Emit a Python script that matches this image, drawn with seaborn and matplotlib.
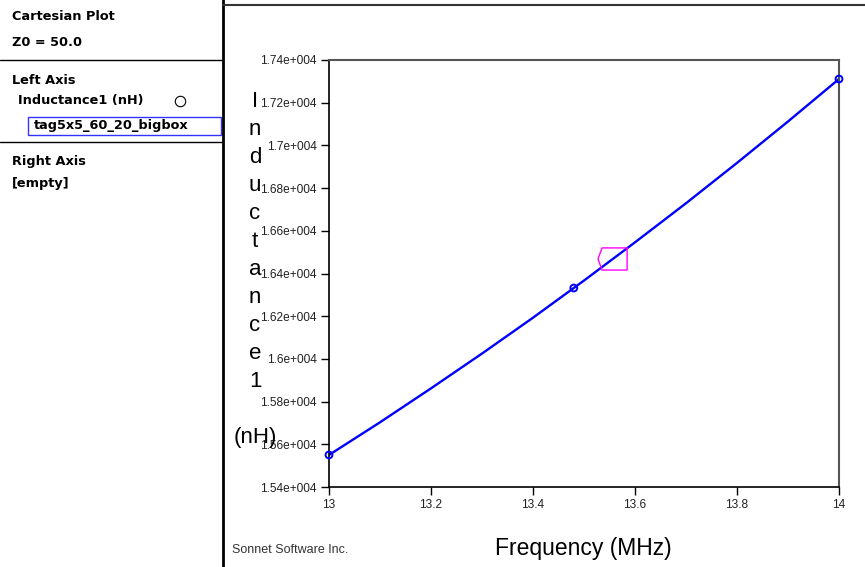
import matplotlib
matplotlib.use("Agg")
import matplotlib.pyplot as plt
import seaborn as sns
import pandas as pd
from matplotlib.lines import Line2D
from matplotlib.patches import Rectangle
from matplotlib.path import Path

# ---------------- data ----------------
freq_mhz = [13.0, 13.1, 13.2, 13.3, 13.4, 13.5, 13.6, 13.7, 13.8, 13.9, 14.0]
inductance_nh = [15550, 15703, 15862, 16025, 16193, 16367, 16546, 16729, 16918, 17112, 17311]
sample_freq = [13.0, 13.48, 14.0]
sample_ind = [15550, 16332, 17311]
cursor_freq = [13.556]
cursor_ind = [16468]
x_ticks = [13, 13.2, 13.4, 13.6, 13.8, 14]
y_ticks = [15400, 15600, 15800, 16000, 16200, 16400, 16600, 16800, 17000, 17200, 17400]
y_tick_labels = ["1.54e+004", "1.56e+004", "1.58e+004", "1.6e+004", "1.62e+004", "1.64e+004",
                 "1.66e+004", "1.68e+004", "1.7e+004", "1.72e+004", "1.74e+004"]
x_tick_labels = ["13", "13.2", "13.4", "13.6", "13.8", "14"]

df = pd.DataFrame({"Frequency": freq_mhz, "Inductance": inductance_nh})
df_s = pd.DataFrame({"Frequency": sample_freq, "Inductance": sample_ind})
df_c = pd.DataFrame({"Frequency": cursor_freq, "Inductance": cursor_ind})

sns.set_theme(style="white")
plt.rcParams["font.family"] = ["Liberation Sans", "DejaVu Sans"]

W, H = 865, 567
fig = plt.figure(figsize=(W / 100, H / 100), dpi=100)
ax = fig.add_axes([329 / W, 1 - 487 / H, (839 - 329) / W, (487 - 60) / H])

sns.lineplot(data=df, x="Frequency", y="Inductance", ax=ax, color="#0000ff",
             linewidth=1.7, estimator=None, sort=True)
sns.scatterplot(data=df_s, x="Frequency", y="Inductance", ax=ax, marker="o", s=24,
                facecolor="none", edgecolor="#0000ff", linewidth=1.4, zorder=4, clip_on=False)

# cursor marker (box with pointed left side)
cursor_path = Path([(-1.0, 0.0), (-0.72, 0.76), (1.0, 0.76), (1.0, -0.76), (-0.72, -0.76), (-1.0, 0.0)],
                   [Path.MOVETO, Path.LINETO, Path.LINETO, Path.LINETO, Path.LINETO, Path.CLOSEPOLY])
sns.scatterplot(data=df_c, x="Frequency", y="Inductance", ax=ax, marker=cursor_path, s=440,
                facecolor="none", edgecolor="#ff00ff", linewidth=1.0, zorder=5)

ax.set_xlim(13, 14)
ax.set_ylim(15400, 17400)
ax.set_xticks(x_ticks)
ax.set_xticklabels(x_tick_labels)
ax.set_yticks(y_ticks)
ax.set_yticklabels(y_tick_labels)
ax.tick_params(axis="both", which="both", direction="out", length=6, width=1, color="black",
               labelsize=8.6, labelcolor="#222222", left=True, bottom=True, pad=3)
ax.set_xlabel("")
ax.set_ylabel("")
for s in ["left", "bottom"]:
    ax.spines[s].set_color("black")
    ax.spines[s].set_linewidth(1.2)
for s in ["top", "right"]:
    ax.spines[s].set_color("#555555")
    ax.spines[s].set_linewidth(1.5)
ax.grid(False)

# axis titles
fig.text(583 / W, 1 - 548 / H, "Frequency (MHz)", ha="center", va="center", fontsize=16.5, color="black")
fig.text(255 / W, 1 - 91 / H, "I\nn\nd\nu\nc\nt\na\nn\nc\ne\n1\n\n(nH)", ha="center", va="top",
         fontsize=16, linespacing=1.44, multialignment="center", color="black")
fig.text(232 / W, 1 - 550 / H, "Sonnet Software Inc.", ha="left", va="center", fontsize=9, color="#333333")

# left info panel
lines = [
    Line2D([223 / W, 223 / W], [0, 1], transform=fig.transFigure, color="black", linewidth=2),
    Line2D([0, 223 / W], [1 - 60 / H, 1 - 60 / H], transform=fig.transFigure, color="black", linewidth=1),
    Line2D([0, 223 / W], [1 - 142 / H, 1 - 142 / H], transform=fig.transFigure, color="black", linewidth=1),
    Line2D([223 / W, 1], [1 - 5 / H, 1 - 5 / H], transform=fig.transFigure, color="#333333", linewidth=1.5),
]
for ln in lines:
    fig.add_artist(ln)

panel_font = dict(fontsize=9.3, fontweight="bold", color="black", ha="left", va="center",
                  family=["DejaVu Sans"])
fig.text(12 / W, 1 - 17 / H, "Cartesian Plot", **panel_font)
fig.text(12 / W, 1 - 42 / H, "Z0 = 50.0", **panel_font)
fig.text(12 / W, 1 - 80 / H, "Left Axis", **panel_font)
fig.text(18 / W, 1 - 101 / H, "Inductance1 (nH)", **panel_font)
fig.add_artist(Line2D([180 / W], [1 - 101 / H], transform=fig.transFigure, marker="o", markersize=7.5,
                      markerfacecolor="white", markeredgecolor="black", markeredgewidth=0.8, linestyle="none"))
fig.add_artist(Rectangle((28 / W, 1 - 135 / H), (221 - 28) / W, 18 / H, transform=fig.transFigure,
                         facecolor="white", edgecolor="#3333ff", linewidth=1))
fig.text(34 / W, 1 - 126 / H, "tag5x5_60_20_bigbox", **panel_font)
fig.text(12 / W, 1 - 162 / H, "Right Axis", **panel_font)
fig.text(12 / W, 1 - 183 / H, "[empty]", **panel_font)

fig.savefig("out.png", dpi=100)
